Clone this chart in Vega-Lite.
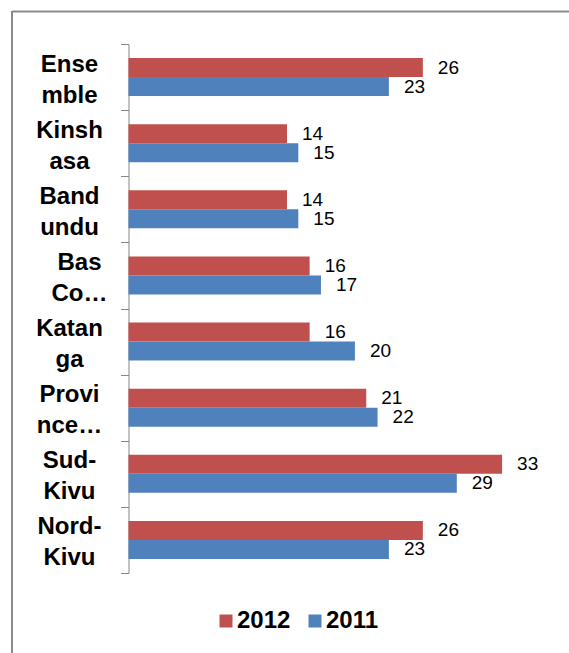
{
  "$schema": "https://vega.github.io/schema/vega-lite/v6.json",
  "width": 557,
  "height": 642,
  "autosize": {"type": "none"},
  "padding": {"left": 12, "top": 11, "right": 0, "bottom": 0},
  "background": "white",
  "config": {"view": {"stroke": null}, "font": "Liberation Sans"},
  "data": {
    "values": [
      {"region": "Ensemble", "year": "2012", "value": 26},
      {"region": "Ensemble", "year": "2011", "value": 23},
      {"region": "Kinshasa", "year": "2012", "value": 14},
      {"region": "Kinshasa", "year": "2011", "value": 15},
      {"region": "Bandundu", "year": "2012", "value": 14},
      {"region": "Bandundu", "year": "2011", "value": 15},
      {"region": "Bas-Congo", "year": "2012", "value": 16},
      {"region": "Bas-Congo", "year": "2011", "value": 17},
      {"region": "Katanga", "year": "2012", "value": 16},
      {"region": "Katanga", "year": "2011", "value": 20},
      {"region": "Province Orientale", "year": "2012", "value": 21},
      {"region": "Province Orientale", "year": "2011", "value": 22},
      {"region": "Sud-Kivu", "year": "2012", "value": 33},
      {"region": "Sud-Kivu", "year": "2011", "value": 29},
      {"region": "Nord-Kivu", "year": "2012", "value": 26},
      {"region": "Nord-Kivu", "year": "2011", "value": 23}
    ]
  },
  "layer": [
    {
      "mark": {"type": "bar"},
      "encoding": {
        "y": {
          "field": "region",
          "type": "nominal",
          "sort": null,
          "scale": {"range": [33, 562], "paddingInner": 0, "paddingOuter": 0},
          "axis": {
            "title": null,
            "offset": -116.5,
            "domainColor": "#868686",
            "tickColor": "#868686",
            "tickSize": 8,
            "tickBand": "extent",
            "labelFontSize": 24,
            "labelFontWeight": "bold",
            "labelColor": "black",
            "labelAlign": "center",
            "labelBaseline": "middle",
            "labelLineHeight": 31,
            "labelOffset": -13,
            "labelPadding": {"condition": {"test": "datum.value === 'Bas-Congo'", "value": 41.5}, "value": 51.5},
            "labelExpr": "datum.value == 'Ensemble' ? ['Ense','mble'] : datum.value == 'Kinshasa' ? ['Kinsh','asa'] : datum.value == 'Bandundu' ? ['Band','undu'] : datum.value == 'Bas-Congo' ? ['Bas','Co…'] : datum.value == 'Katanga' ? ['Katan','ga'] : datum.value == 'Province Orientale' ? ['Provi','nce…'] : datum.value == 'Sud-Kivu' ? ['Sud-','Kivu'] : datum.value == 'Nord-Kivu' ? ['Nord-','Kivu'] : ''"
          }
        },
        "yOffset": {
          "field": "year",
          "type": "nominal",
          "sort": ["2012", "2011"],
          "scale": {"paddingInner": 0, "paddingOuter": 0.74}
        },
        "x": {
          "field": "value",
          "type": "quantitative",
          "scale": {"domain": [-10.29, 38.91], "nice": false},
          "axis": {
            "orient": "top",
            "title": null,
            "labels": false,
            "ticks": false,
            "grid": false,
            "domain": true,
            "domainColor": "#8a8a8a",
            "domainWidth": 2
          }
        },
        "color": {
          "field": "year",
          "type": "nominal",
          "scale": {"domain": ["2012", "2011"], "range": ["#C0504D", "#4F81BD"]},
          "legend": {
            "orient": "none",
            "legendX": 202,
            "legendY": 598,
            "direction": "horizontal",
            "title": null,
            "symbolType": "square",
            "symbolSize": 169,
            "symbolStrokeWidth": 0,
            "labelFontSize": 24,
            "labelFontWeight": "bold",
            "labelFont": "Liberation Sans",
            "labelColor": "black",
            "labelOffset": -1,
            "columnPadding": 12,
            "padding": 0
          }
        }
      }
    },
    {
      "mark": {"type": "text", "align": "left", "baseline": "middle", "dx": 15, "fontSize": 19, "color": "black"},
      "encoding": {
        "y": {"field": "region", "type": "nominal", "sort": null},
        "yOffset": {"field": "year", "type": "nominal", "sort": ["2012", "2011"]},
        "x": {"field": "value", "type": "quantitative"},
        "text": {"field": "value", "type": "quantitative"}
      }
    },
    {
      "data": {"values": [{"edge": -10.29}]},
      "mark": {"type": "rule", "color": "#8a8a8a", "strokeWidth": 2},
      "encoding": {
        "x": {"field": "edge", "type": "quantitative"}
      }
    }
  ]
}
